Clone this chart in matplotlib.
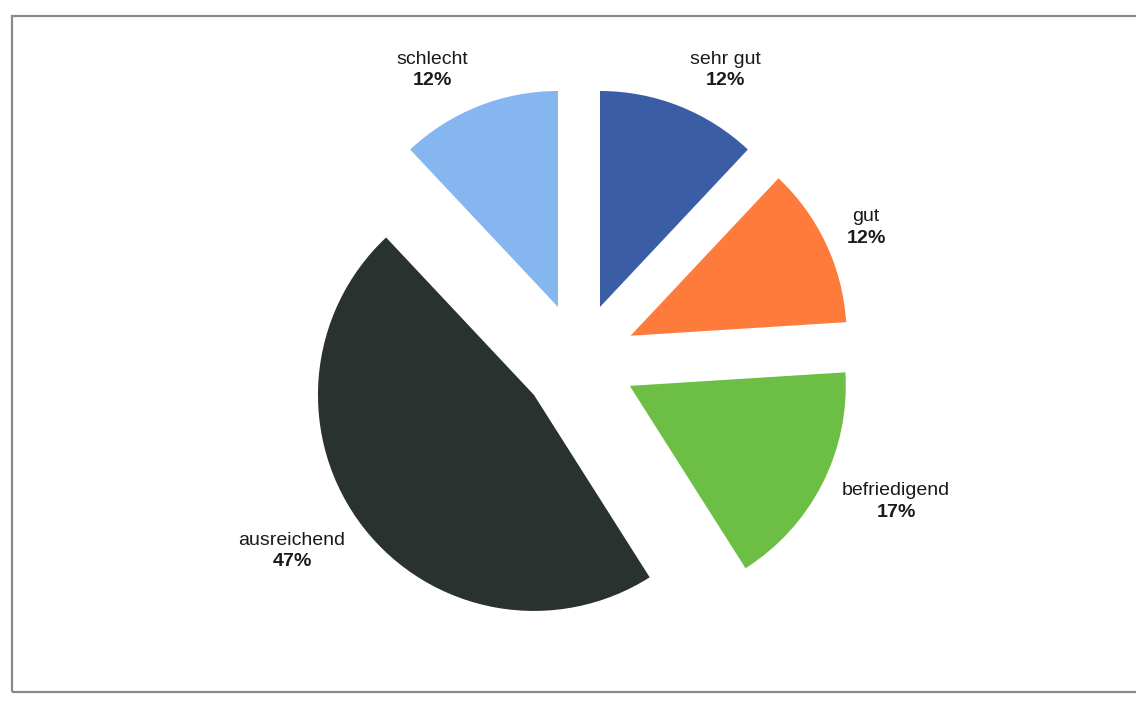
import numpy as np
import matplotlib.pyplot as plt
from matplotlib.patches import Rectangle

plt.rcParams['font.family'] = ['Liberation Sans', 'DejaVu Sans']
plt.rcParams['mathtext.fontset'] = 'custom'
plt.rcParams['mathtext.rm'] = 'Liberation Sans'
plt.rcParams['mathtext.bf'] = 'Liberation Sans:bold'

# grades, clockwise from 12 o'clock
grades = ['sehr gut', 'gut', 'befriedigend', 'ausreichend', 'schlecht']
shares = [12, 12, 17, 47, 12]
colors = ['#3A5DA6', '#FF7B3C', '#6CBE45', '#2A322F', '#85B6F0']

W, H = 1136, 702
fig = plt.figure(figsize=(W / 100, H / 100), dpi=100)
ax = fig.add_axes([0, 0, 1, 1])

radius = 216
wedges, _ = ax.pie(shares, colors=colors, startangle=90, counterclock=False,
                   radius=radius, center=(579, 342), explode=[57] * len(shares),
                   wedgeprops=dict(linewidth=0), frame=True)
ax.set_xlim(0, W)
ax.set_ylim(0, H)
ax.set_aspect('equal')
ax.axis('off')

# grey box around the chart area
ax.add_patch(Rectangle((12, 10), W, 676, fill=False, edgecolor='#8a8a8a', lw=1.6))

# labels sit just outside each slice, nudged along the mid angle
for w, name, pct in zip(wedges, grades, shares):
    ang = np.deg2rad((w.theta1 + w.theta2) / 2)
    cx, cy = w.center
    px = cx + w.r * 1.08 * np.cos(ang)
    py = cy + w.r * 1.08 * np.sin(ang)
    right = np.cos(ang) > 0
    ax.annotate(f'{name}\n$\\bf{{{pct}\\%}}$', (px, py),
                xytext=(3 if right else -3, 15.5 * np.sin(ang)),
                textcoords='offset points',
                ha='left' if right else 'right', va='center',
                multialignment='center', fontsize=14, color='#1a1a1a',
                linespacing=1.35)

plt.savefig('out.png', dpi=100)
